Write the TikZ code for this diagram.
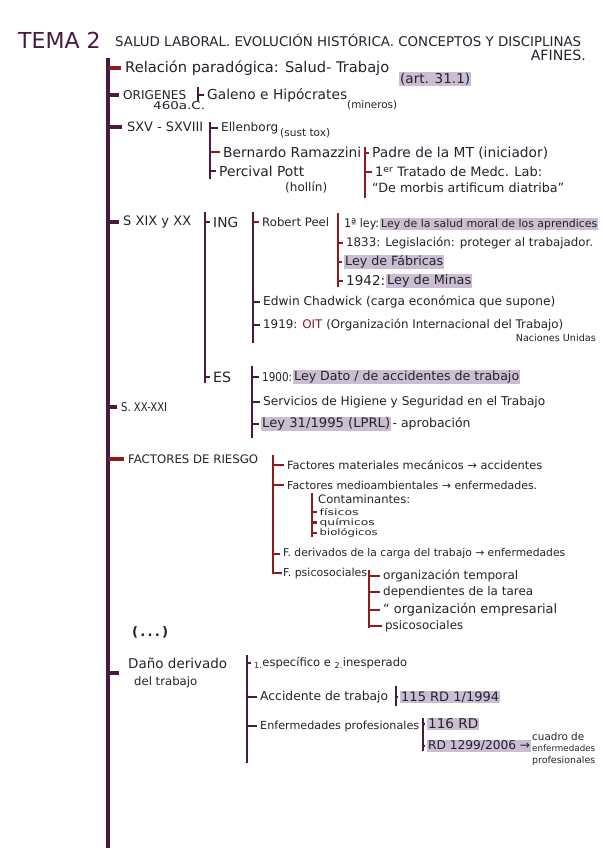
\documentclass[tikz,border=0pt]{standalone}
\usepackage{fontspec}
\usepackage{graphicx}
\setmainfont{DejaVu Sans}
\definecolor{plum}{HTML}{4A1942}
\definecolor{dred}{HTML}{8E1B1E}
\definecolor{ink}{HTML}{24232E}
\definecolor{hl}{HTML}{CBBED2}
\newcommand\fw[2]{\resizebox{#1pt}{!}{#2}}
\newcommand\fwh[3]{\resizebox{#1pt}{#2pt}{#3}}
\tikzset{
  txt/.style={anchor=west, inner sep=1pt, text=ink, font=\fontsize{11}{13}\selectfont},
  hlt/.style={txt, fill=hl},
  trunk/.style={line width=3.5pt, plum},
  br/.style={line width=2.6pt, plum},
  rbr/.style={line width=2.6pt, dred},
  tk/.style={line width=2.6pt, plum, shorten >=2pt},
  rtk/.style={line width=2.6pt, dred, shorten >=2pt},
}
\begin{document}
\begin{tikzpicture}[x=1pt,y=-1pt]
\useasboundingbox (0,0) rectangle (602,848);
\fill[white] (0,0) rectangle (602,848);

% title
\node[anchor=west, inner sep=0pt, text=plum, font=\fontsize{22}{22}\selectfont] (tema) at (18,40) {TEMA 2};
\node[txt] (sub) at (114,40) {\fw{466}{SALUD LABORAL. EVOLUCIÓN HISTÓRICA. CONCEPTOS Y DISCIPLINAS}};
\node[txt, anchor=east] (afines) at (587,55) {\fw{55}{AFINES.}};

% trunk
\coordinate (tT) at (108,58);
\coordinate (tB) at (108,848);
\draw[trunk] (tT) -- (tB);

% Relacion
\node[txt] (rel) at (124,68) {\fw{264}{Relación paradógica: Salud- Trabajo}};
\node[hlt] (art) at (399,79) {\fw{70}{(art. 31.1)}};
\draw[trunk, dred, shorten >=3pt] (tT |- rel.west) -- (rel.west);

% Origenes
\node[txt] (orig) at (122,95) {\fwh{63}{9}{ORIGENES}};
\node[txt] (a460) at (152,106) {\fwh{52}{8}{460a.C.}};
\node[txt] (gal) at (206,95) {\fw{140}{Galeno e Hipócrates}};
\node[txt] (min) at (346,105) {\fw{50}{(mineros)}};
\draw[trunk, shorten >=3pt] (tT |- orig.west) -- (orig.west);
\coordinate (bg) at (198,87);
\coordinate (bge) at (198,101);
\draw[br] (bg) -- (bge);
\draw[tk] (bg |- gal.west) -- (gal.west);

% SXV - SXVIII
\node[txt] (sxv) at (126,127) {\fw{76}{SXV - SXVIII}};
\draw[trunk, shorten >=4pt] (tT |- sxv.west) -- (sxv.west);
\coordinate (b1) at (210,122);
\coordinate (b1e) at (210,179);
\draw[br] (b1) -- (b1e);
\node[txt] (ell) at (220,128) {\fw{57}{Ellenborg}};
\node[txt] (sust) at (279,133) {\fw{50}{(sust tox)}};
\node[txt] (ber) at (222,152) {\fw{138}{Bernardo Ramazzini}};
\node[txt] (per) at (218,171) {\fw{85}{Percival Pott}};
\node[txt] (hol) at (284,187) {\fw{42}{(hollín)}};
\draw[tk] (b1 |- ell.west) -- (ell.west);
\draw[rtk] (b1 |- ber.west) -- (ber.west);
\draw[tk] (b1 |- per.west) -- (per.west);
\coordinate (b2) at (365,147);
\coordinate (b2e) at (365,198);
\draw[rbr] (b2) -- (b2e);
\node[txt] (pad) at (371,153) {\fw{176}{Padre de la MT (iniciador)}};
\node[txt] (tra) at (374,172) {\fw{167}{1\textsuperscript{er} Tratado de Medc. Lab:}};
\node[txt] (dem) at (371,188) {\fw{192}{“De morbis artificum diatriba”}};
\draw[rtk] (b2 |- pad.west) -- (pad.west);
\draw[rtk] (b2 |- tra.west) -- (tra.west);

% S XIX y XX
\node[txt] (sxix) at (122,222) {\fw{68}{S XIX y XX}};
\draw[trunk, shorten >=3pt] (tT |- sxix.west) -- (sxix.west);
\coordinate (b3) at (205,212);
\coordinate (b3e) at (205,383);
\draw[br] (b3) -- (b3e);
\node[txt] (ing) at (212,222) {\fw{25}{ING}};
\node[txt] (es) at (212,377) {\fw{18}{ES}};
\draw[tk] (b3 |- ing.west) -- (ing.west);
\draw[tk] (b3 |- es.west) -- (es.west);
\coordinate (b4) at (253,212);
\coordinate (b4e) at (253,343);
\draw[br] (b4) -- (b4e);
\node[txt] (peel) at (261,222) {\fw{67}{Robert Peel}};
\node[txt] (edw) at (262,302) {\fw{292}{Edwin Chadwick (carga económica que supone)}};
\node[txt] (oit) at (262,325) {\fw{300}{1919: \textcolor{dred}{OIT} (Organización Internacional del Trabajo)}};
\node[txt, anchor=east] (nu) at (597,338) {\fw{80}{Naciones Unidas}};
\draw[rtk] (b4 |- peel.west) -- (peel.west);
\draw[tk] (b4 |- edw.west) -- (edw.west);
\draw[tk] (b4 |- oit.west) -- (oit.west);
\coordinate (b5) at (338,213);
\coordinate (b5e) at (338,287);
\draw[rbr] (b5) -- (b5e);
\node[txt] (l1) at (343,224) {\fwh{35}{9}{1ª ley:}};
\node[hlt] (l1h) at (380,224) {\fw{216}{Ley de la salud moral de los aprendices}};
\node[txt] (l1833) at (345,243) {\fw{247}{1833: Legislación: proteger al trabajador.}};
\node[hlt] (fab) at (344,262) {\fw{98}{Ley de Fábricas}};
\node[txt] (l1942) at (345,281) {\fw{39}{1942:}};
\node[hlt] (minas) at (386,281) {\fw{84}{Ley de Minas}};
\draw[rtk] (b5 |- l1833.west) -- (l1833.west);
\draw[rtk] (b5 |- fab.west) -- (fab.west);
\draw[rtk] (b5 |- l1942.west) -- (l1942.west);

% S XX-XXI
\node[txt] (sxx) at (120,407) {\fwh{46}{9}{S. XX-XXI}};
\draw[trunk, shorten >=3pt] (tT |- sxx.west) -- (sxx.west);
\coordinate (b6) at (252,366);
\coordinate (b6e) at (252,438);
\draw[br] (b6) -- (b6e);
\node[txt] (l1900) at (261,377) {\fwh{30}{9}{1900:}};
\node[hlt] (dato) at (293,377) {\fw{225}{Ley Dato / de accidentes de trabajo}};
\node[txt] (serv) at (262,402) {\fw{282}{Servicios de Higiene y Seguridad en el Trabajo}};
\node[hlt] (l31) at (261,424) {\fw{128}{Ley 31/1995 (LPRL)}};
\node[txt] (apr) at (l31.east) {\fw{78}{- aprobación}};
\draw[tk] (b6 |- l1900.west) -- (l1900.west);
\draw[tk] (b6 |- serv.west) -- (serv.west);
\draw[tk] (b6 |- l31.west) -- (l31.west);

% Factores de riesgo
\node[txt] (fac) at (127,459) {\fw{130}{FACTORES DE RIESGO}};
\draw[trunk, dred, shorten >=3pt] (tT |- fac.west) -- (fac.west);
\coordinate (b7) at (273,455);
\node[txt] (fm) at (286,465) {\fw{255}{Factores materiales mecánicos → accidentes}};
\node[txt] (fma) at (286,485) {\fw{250}{Factores medioambientales → enfermedades.}};
\node[txt] (fd) at (282,554) {\fw{282}{F. derivados de la carga del trabajo → enfermedades}};
\node[txt] (fp) at (282,573) {\fw{84}{F. psicosociales}};
\draw[rbr] (b7) -- (b7 |- fp.west) -- (fp.west);
\draw[rtk] (b7 |- fm.west) -- (fm.west);
\draw[rtk] (b7 |- fma.west) -- (fma.west);
\draw[rtk] (b7 |- fd.west) -- (fd.west);
\coordinate (b8) at (312,493);
\coordinate (b8e) at (312,537);
\node[txt] (cont) at (317,499) {\fw{92}{Contaminantes:}};
\node[txt, inner sep=0.5pt] (fis) at (319,512) {\fwh{39}{7}{físicos}};
\node[txt, inner sep=0.5pt] (qui) at (319,522.5) {\fwh{55}{7}{químicos}};
\node[txt, inner sep=0.5pt] (bio) at (319,533) {\fwh{58}{7}{biológicos}};
\draw[rbr] (b8) -- (b8e);
\draw[rtk] (b8 |- fis.west) -- (fis.west);
\draw[rtk] (b8 |- qui.west) -- (qui.west);
\draw[rtk] (b8 |- bio.west) -- (bio.west);
\coordinate (b9) at (369,570);
\coordinate (b9e) at (369,628);
\node[txt] (ot) at (382,576) {\fw{135}{organización temporal}};
\node[txt] (dt) at (382,592) {\fw{150}{dependientes de la tarea}};
\node[txt] (oe) at (382,610) {\fw{174}{“ organización empresarial}};
\node[txt] (ps) at (384,626) {\fw{78}{psicosociales}};
\draw[rbr] (b9) -- (b9e);
\draw[rtk] (b9 |- ot.west) -- (ot.west);
\draw[rtk] (b9 |- dt.west) -- (dt.west);
\draw[rtk] (b9 |- oe.west) -- (oe.west);
\draw[rtk] (b9 |- ps.west) -- (ps.west);

\node[txt, font=\fontsize{11}{13}\selectfont\bfseries] (dots) at (131,632) {\fw{36}{(\,.\,.\,.\,)}};

% Dano derivado
\node[txt, align=left, font=\fontsize{11}{17}\selectfont] (dano) at (127,673) {\fw{99}{Daño derivado}\\\hspace*{6pt}\fw{63}{del trabajo}};
\draw[trunk, shorten >=8pt] (tT |- dano.west) -- (dano.west);
\coordinate (b10) at (247,655);
\coordinate (b10e) at (247,763);
\draw[br] (b10) -- (b10e);
\node[txt] (esp) at (253,663) {\fw{153}{\textsubscript{1.}específico e \textsubscript{2.}inesperado}};
\node[txt] (acc) at (259,697) {\fw{128}{Accidente de trabajo}};
\node[txt] (enf) at (259,726) {\fw{159}{Enfermedades profesionales}};
\draw[tk] (b10 |- esp.west) -- (esp.west);
\draw[tk] (b10 |- acc.west) -- (acc.west);
\draw[tk] (b10 |- enf.west) -- (enf.west);
\coordinate (b11) at (396,686);
\coordinate (b11e) at (396,706);
\draw[br] (b11) -- (b11e);
\node[hlt] (r115) at (400,697) {\fw{98}{115 RD 1/1994}};
\draw[tk] (b11 |- r115.west) -- (r115.west);
\coordinate (b12) at (423,718);
\coordinate (b12e) at (423,751);
\draw[br] (b12) -- (b12e);
\node[hlt] (r116) at (427,724) {\fw{50}{116 RD}};
\node[hlt] (r1299) at (427,746) {\fw{102}{RD 1299/2006 →}};
\draw[tk] (b12 |- r116.west) -- (r116.west);
\draw[tk] (b12 |- r1299.west) -- (r1299.west);
\node[txt, align=left, font=\fontsize{11}{11.5}\selectfont] (cua) at (531,749) {\fw{52}{cuadro de}\\\fw{63}{enfermedades}\\\fw{63}{profesionales}};
\end{tikzpicture}
\end{document}
